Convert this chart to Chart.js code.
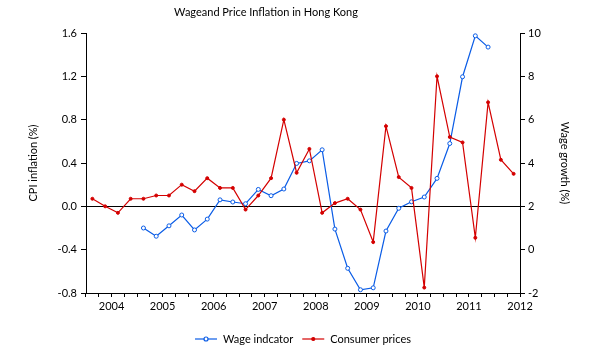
<!DOCTYPE html>
<html>
<head>
<meta charset="utf-8">
<script src="https://cdn.jsdelivr.net/npm/chart.js@4"></script>
<style>
  html, body { margin: 0; padding: 0; background: #fff; }
  #wrap { width: 598px; height: 363px; }
</style>
</head>
<body>
<div id="wrap"><canvas id="chart"></canvas></div>
<script>
const chartTitle = 'Wageand Price Inflation in Hong Kong';

// quarterly periods, 2004Q1 .. 2012Q2
const periods = [
    '2004Q1', '2004Q2', '2004Q3', '2004Q4',
    '2005Q1', '2005Q2', '2005Q3', '2005Q4',
    '2006Q1', '2006Q2', '2006Q3', '2006Q4',
    '2007Q1', '2007Q2', '2007Q3', '2007Q4',
    '2008Q1', '2008Q2', '2008Q3', '2008Q4',
    '2009Q1', '2009Q2', '2009Q3', '2009Q4',
    '2010Q1', '2010Q2', '2010Q3', '2010Q4',
    '2011Q1', '2011Q2', '2011Q3', '2011Q4',
    '2012Q1', '2012Q2'
];
const yearLabels = ['2004', '2005', '2006', '2007', '2008', '2009', '2010', '2011', '2012'];

// CPI inflation (%), left axis
const cpiInflation = [
    0.07, 0.00, -0.06, 0.07,
    0.07, 0.10, 0.10, 0.20,
    0.14, 0.26, 0.17, 0.17,
    -0.03, 0.10, 0.26, 0.80,
    0.31, 0.53, -0.06, 0.03,
    0.07, -0.03, -0.33, 0.74,
    0.27, 0.17, -0.75, 1.20,
    0.64, 0.59, -0.29, 0.96,
    0.43, 0.30
];

// Wage indicator growth (%), right axis
const wageGrowth = [
    null, null, null, null,
    1.00, 0.62, 1.10, 1.60,
    0.91, 1.41, 2.30, 2.20,
    2.12, 2.78, 2.49, 2.80,
    3.98, 4.10, 4.61, 0.95,
    -0.86, -1.85, -1.76, 0.86,
    1.91, 2.21, 2.43, 3.29,
    4.90, 7.98, 9.87, 9.35,
    null, null
];

const leftTicks = { min: -0.8, max: 1.6, step: 0.4 };
const rightTicks = { min: -2, max: 10, step: 2 };

const fontFamily = 'Lato, "Noto Sans", sans-serif';
const blue = '#0a5ce6';
const red = '#d40000';

// draw the title and the legend (line + marker, like the original)
const captionPlugin = {
    id: 'caption',
    afterDraw(chart) {
        const ctx = chart.ctx;
        ctx.save();
        ctx.fillStyle = '#000';
        ctx.font = '11px ' + fontFamily;
        ctx.textAlign = 'center';
        ctx.textBaseline = 'middle';
        ctx.fillText(chartTitle, 266, 12);

        const items = chart.data.datasets.slice().sort((a, b) => a.legendIndex - b.legendIndex);
        const lineW = 22, gap = 6, itemGap = 9;
        let total = 0;
        items.forEach((ds, i) => {
            total += lineW + gap + ctx.measureText(ds.label).width;
            if (i < items.length - 1) total += itemGap;
        });
        let x = 303 - total / 2;
        const y = 339;
        ctx.textAlign = 'left';
        items.forEach(ds => {
            ctx.strokeStyle = ds.borderColor;
            ctx.lineWidth = 1.2;
            ctx.beginPath();
            ctx.moveTo(x, y);
            ctx.lineTo(x + lineW, y);
            ctx.stroke();
            ctx.beginPath();
            ctx.arc(x + lineW / 2, y, ds.pointRadius, 0, Math.PI * 2);
            ctx.fillStyle = ds.pointBackgroundColor;
            ctx.fill();
            ctx.stroke();
            x += lineW + gap;
            ctx.fillStyle = '#000';
            ctx.fillText(ds.label, x, y);
            x += ctx.measureText(ds.label).width + itemGap;
        });
        ctx.restore();
    }
};

function initializeChart() {
    const ctx = document.getElementById('chart').getContext('2d');
    Chart.defaults.font.family = fontFamily;
    Chart.defaults.font.size = 11;
    Chart.defaults.color = '#000';

    new Chart(ctx, {
        type: 'line',
        data: {
            labels: periods,
            datasets: [{
                label: 'Wage indcator',
                legendIndex: 0,
                data: wageGrowth,
                yAxisID: 'y2',
                borderColor: blue,
                borderWidth: 1.2,
                pointBackgroundColor: '#fff',
                pointBorderColor: blue,
                pointBorderWidth: 1,
                pointRadius: 2,
                tension: 0,
                order: 1
            }, {
                label: 'Consumer prices',
                legendIndex: 1,
                data: cpiInflation,
                yAxisID: 'y',
                borderColor: red,
                borderWidth: 1.2,
                pointBackgroundColor: red,
                pointBorderColor: red,
                pointBorderWidth: 1,
                pointRadius: 1.5,
                tension: 0,
                order: 0
            }]
        },
        options: {
            responsive: true,
            maintainAspectRatio: false,
            animation: false,
            layout: { padding: { top: 33, bottom: 40, left: 0, right: 0 } },
            plugins: {
                legend: { display: false },
                title: { display: false },
                tooltip: { enabled: false }
            },
            scales: {
                x: {
                    offset: true,
                    grid: {
                        offset: true,
                        drawOnChartArea: false,
                        tickLength: 4,
                        color: '#000'
                    },
                    border: { color: '#000', width: 1 },
                    ticks: {
                        autoSkip: false,
                        maxRotation: 0,
                        padding: 3,
                        labelOffset: 6.4,
                        callback: function (val, i) {
                            const p = periods[i];
                            return p.endsWith('Q2') ? yearLabels[yearLabels.indexOf(p.slice(0, 4))] : '';
                        }
                    },
                    afterFit: scale => { scale.height = 30; }
                },
                y: {
                    position: 'left',
                    min: leftTicks.min,
                    max: leftTicks.max,
                    grid: {
                        color: c => Math.abs(c.tick.value) < 1e-9 ? '#000' : 'rgba(0,0,0,0)',
                        tickColor: '#000',
                        tickLength: 5
                    },
                    border: { color: '#000', width: 1 },
                    ticks: {
                        stepSize: leftTicks.step,
                        padding: 4,
                        callback: v => v.toFixed(1)
                    },
                    title: {
                        display: true,
                        text: 'CPI inflation (%)',
                        padding: { top: 27, bottom: 0 }
                    },
                    afterFit: scale => { scale.width = 86; }
                },
                y2: {
                    position: 'right',
                    min: rightTicks.min,
                    max: rightTicks.max,
                    grid: {
                        drawOnChartArea: false,
                        color: '#000',
                        tickLength: 5
                    },
                    border: { color: '#000', width: 1 },
                    ticks: {
                        stepSize: rightTicks.step,
                        padding: 3
                    },
                    title: {
                        display: true,
                        text: 'Wage growth (%)',
                        padding: { top: 27, bottom: 0 }
                    },
                    afterFit: scale => { scale.width = 78; }
                }
            }
        },
        plugins: [captionPlugin]
    });
}

document.addEventListener('DOMContentLoaded', initializeChart);
</script>
</body>
</html>
